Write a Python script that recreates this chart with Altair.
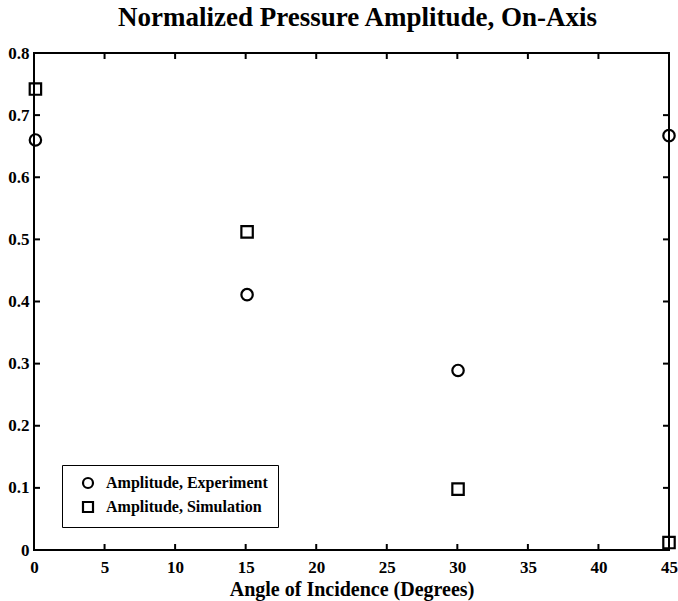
import altair as alt
import pandas as pd

# Data
series_names = ["Amplitude, Experiment", "Amplitude, Simulation"]
exp_angle = [0.1, 15.1, 30.05, 45.0]
exp_amp = [0.66, 0.411, 0.289, 0.667]
sim_angle = [0.1, 15.1, 30.05, 45.0]
sim_amp = [0.742, 0.512, 0.098, 0.012]

x_ticks = [0, 5, 10, 15, 20, 25, 30, 35, 40, 45]
y_ticks = [0, 0.1, 0.2, 0.3, 0.4, 0.5, 0.6, 0.7, 0.8]

W, H = 635, 497
FONT = "Liberation Serif"

pts = pd.DataFrame({
    "angle": exp_angle + sim_angle,
    "amp": exp_amp + sim_amp,
    "series": [series_names[0]] * len(exp_angle) + [series_names[1]] * len(sim_angle),
})
xt = pd.DataFrame({"t": x_ticks})
yt = pd.DataFrame({"t": y_ticks})

xscale = alt.Scale(domain=[0, 45], nice=False, zero=False)
yscale = alt.Scale(domain=[0, 0.8], nice=False, zero=False)

points = alt.Chart(pts).mark_point(filled=False, size=130, strokeWidth=2.2, opacity=1).encode(
    x=alt.X("angle:Q", scale=xscale,
            axis=alt.Axis(values=x_ticks, title="Angle of Incidence (Degrees)", format="d")),
    y=alt.Y("amp:Q", scale=yscale,
            axis=alt.Axis(values=y_ticks, title=None, labelExpr="datum.value == 0 ? '0' : format(datum.value, '.1f')")),
    shape=alt.Shape("series:N",
                    scale=alt.Scale(domain=series_names, range=["circle", "square"]),
                    legend=alt.Legend(title=None, orient="none", legendX=28, legendY=412,
                                      padding=10, symbolOffset=8, labelOffset=10,
                                      rowPadding=4, strokeColor="black",
                                      fillColor="white", symbolSize=100,
                                      symbolStrokeWidth=2.2, symbolStrokeColor="black",
                                      symbolFillColor="transparent",
                                      labelFont=FONT, labelFontSize=16, labelFontWeight="bold",
                                      labelColor="black", labelLimit=300)),
    color=alt.value("black"),
)

tx_bottom = alt.Chart(xt).mark_rule(color="black", strokeWidth=2).encode(
    x=alt.X("t:Q", scale=xscale), y=alt.value(H), y2=alt.value(H - 6))
tx_top = alt.Chart(xt).mark_rule(color="black", strokeWidth=2).encode(
    x=alt.X("t:Q", scale=xscale), y=alt.value(0), y2=alt.value(6))
ty_left = alt.Chart(yt).mark_rule(color="black", strokeWidth=2).encode(
    y=alt.Y("t:Q", scale=yscale), x=alt.value(0), x2=alt.value(6))
ty_right = alt.Chart(yt).mark_rule(color="black", strokeWidth=2).encode(
    y=alt.Y("t:Q", scale=yscale), x=alt.value(W), x2=alt.value(W - 6))

chart = alt.layer(tx_bottom, tx_top, ty_left, ty_right, points).properties(
    width=W, height=H,
    background="white",
    title=alt.TitleParams("Normalized Pressure Amplitude, On-Axis", font=FONT, fontSize=27,
                          fontWeight="bold", color="black", anchor="middle", dx=6, offset=12),
    autosize=alt.AutoSizeParams(type="none"),
    padding={"left": 34, "top": 53, "right": 9, "bottom": 51},
).configure_view(
    stroke="black", strokeWidth=2,
).configure_axis(
    domain=False, ticks=False, grid=False, labelFlush=False, labelOverlap=False,
    labelFont=FONT, labelFontSize=17, labelFontWeight="bold", labelColor="black",
    titleFont=FONT, titleFontSize=20, titleFontWeight="bold", titleColor="black",
).configure_axisX(
    labelPadding=9, titlePadding=4,
).configure_axisY(
    labelPadding=5,
)

chart.save("out.html", embed_options={"renderer": "svg", "actions": False})
